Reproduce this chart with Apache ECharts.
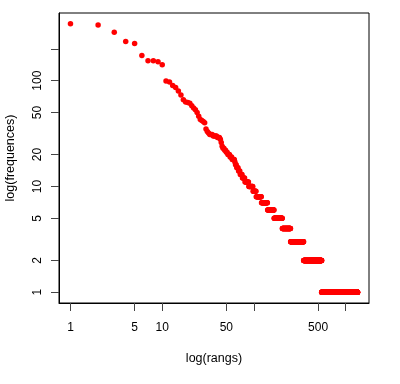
<!DOCTYPE html>
<html>
<head>
<meta charset="utf-8">
<script src="https://cdn.jsdelivr.net/npm/echarts@6/dist/echarts.min.js"></script>
<style>
html,body{margin:0;padding:0;background:#fff;}
#chart{width:400px;height:384px;}
</style>
</head>
<body>
<div id="chart"></div>
<script>
// Distinct frequencies (descending) and how many ranks (words) share each one
var freqValues = [345, 335, 286, 235, 225, 173, 154, 151, 141, 99, 97, 90, 86, 80, 73, 66, 63, 62, 61, 58, 55, 53, 50, 46, 43, 42, 41, 40, 35, 33, 32, 31, 30, 29, 28, 26, 24, 23, 22, 21, 20, 19, 18, 17, 16, 15, 14, 13, 12, 11, 10, 9, 8, 7, 6, 5, 4, 3, 2, 1];
var rankCounts = [1, 1, 1, 1, 1, 1, 2, 1, 1, 1, 1, 1, 1, 1, 1, 1, 1, 1, 1, 1, 1, 1, 1, 1, 1, 1, 1, 1, 1, 1, 1, 3, 4, 3, 1, 1, 1, 2, 2, 2, 3, 3, 4, 1, 2, 3, 3, 4, 5, 8, 10, 8, 15, 20, 25, 38, 47, 97, 199, 799];

// Tick positions and labelled ticks
var xTicks = [1, 5, 10, 50, 100, 500, 1000];
var xLabels = [1, 5, 10, 50, 500];
var yTicks = [1, 2, 5, 10, 20, 50, 100, 200];
var yLabels = [1, 2, 5, 10, 20, 50, 100];

var xName = 'log(rangs)';
var yName = 'log(frequences)';

// Build (rank, frequency) points
var points = [];
var rank = 1;
for (var i = 0; i < freqValues.length; i++) {
  for (var k = 0; k < rankCounts[i]; k++) {
    points.push([rank, freqValues[i]]);
    rank++;
  }
}
var nRanks = rank - 1;
var maxFreq = freqValues[0];

// R-style 4% range extension on the log scale
function ext(lo, hi) {
  var a = Math.log10(lo), b = Math.log10(hi), d = (b - a) * 0.04;
  return [Math.pow(10, a - d), Math.pow(10, b + d)];
}
var xr = ext(1, nRanks);
var yr = ext(1, maxFreq);

var textColor = '#000';
var fontFamily = 'Liberation Sans, Arial, sans-serif';

var chart = echarts.init(document.getElementById('chart'), null, {renderer: 'canvas'});
chart.setOption({
  animation: false,
  backgroundColor: '#fff',
  grid: {
    left: 59, top: 13, width: 310, height: 290,
    show: true, borderColor: '#000', borderWidth: 1, backgroundColor: 'transparent',
    containLabel: false,
    outerBoundsMode: 'none'
  },
  xAxis: {
    type: 'log', logBase: 10, min: xr[0], max: xr[1],
    name: xName, nameLocation: 'middle', nameGap: 49, nameMoveOverlap: false,
    nameTextStyle: {color: textColor, fontSize: 12.5, fontFamily: fontFamily},
    axisLine: {show: true, lineStyle: {color: '#000', width: 1}},
    splitLine: {show: false},
    minorTick: {show: false},
    axisTick: {show: true, inside: false, length: 8, lineStyle: {color: '#444', width: 1}, customValues: xTicks},
    axisLabel: {show: true, margin: 19, color: textColor, fontSize: 12, fontFamily: fontFamily,
      customValues: xLabels, formatter: function (v) { return String(Math.round(v)); }}
  },
  yAxis: {
    type: 'log', logBase: 10, min: yr[0], max: yr[1],
    name: yName, nameLocation: 'middle', nameGap: 42, nameMoveOverlap: false,
    nameTextStyle: {color: textColor, fontSize: 12.5, fontFamily: fontFamily},
    axisLine: {show: true, lineStyle: {color: '#000', width: 1}},
    splitLine: {show: false},
    minorTick: {show: false},
    axisTick: {show: true, inside: false, length: 8, lineStyle: {color: '#444', width: 1}, customValues: yTicks},
    axisLabel: {show: true, margin: 15, rotate: 90, color: textColor, fontSize: 12, fontFamily: fontFamily,
      customValues: yLabels, formatter: function (v) { return String(Math.round(v)); }}
  },
  series: [{
    type: 'scatter',
    data: points,
    symbol: 'circle',
    symbolSize: 5.5,
    itemStyle: {color: '#ff0000', opacity: 1},
    emphasis: {disabled: true}
  }]
});
</script>
</body>
</html>
